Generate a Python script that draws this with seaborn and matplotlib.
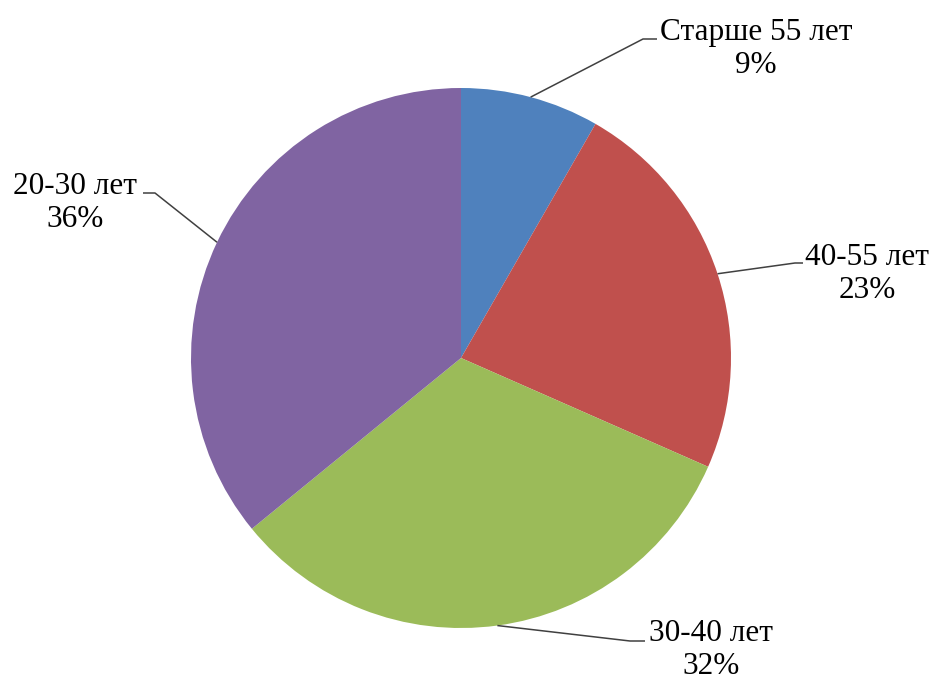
import numpy as np
import matplotlib
matplotlib.use("Agg")
import matplotlib.pyplot as plt
import seaborn as sns

categories = ["Старше 55 лет", "40-55 лет", "30-40 лет", "20-30 лет"]
values = [8.3, 23.3, 32.5, 35.9]
pct_labels = ["9%", "23%", "32%", "36%"]
colors = ["#4F81BD", "#C0504D", "#9BBB59", "#8064A2"]

sns.set_theme(style="white")
plt.rcParams["font.family"] = ["Liberation Serif", "DejaVu Serif"]
palette = sns.color_palette(colors)

W, H = 935, 680
cx, cy, R = 461, 358, 270
fig = plt.figure(figsize=(W / 100, H / 100), dpi=100)
ax = fig.add_axes([0, 0, 1, 1])

wedges, _ = ax.pie(values, colors=palette, startangle=90, counterclock=False,
                   radius=1.0, wedgeprops=dict(linewidth=0))
ax.set_aspect("auto")
ax.set_xlim((0 - cx) / R, (W - cx) / R)
ax.set_ylim((cy - H) / R, cy / R)
ax.axis("off")

def px(x, y):
    return ((x - cx) / R, (cy - y) / R)

# label layout (pixel positions): text center, elbow, horizontal end
layout = [
    ((756, 49), (643, 39), (657, 39)),
    ((867, 274), (795, 263), (803, 263)),
    ((711, 650), (630, 641), (645, 641)),
    ((75, 203), (155, 193), (143, 193)),
]

for w, cat, pl, (tc, elbow, hend) in zip(wedges, categories, pct_labels, layout):
    mid = np.deg2rad((w.theta1 + w.theta2) / 2)
    ax_, ay_ = np.cos(mid), np.sin(mid)
    ex, ey = px(*elbow)
    hx, hy = px(*hend)
    ax.plot([ax_, ex, hx], [ay_, ey, hy], color="#404040", lw=1.1,
            solid_capstyle="butt")
    tx, ty = px(*tc)
    ax.text(tx, ty, f"{cat}\n{pl}", ha="center", va="center",
            fontsize=22.5, linespacing=1.17, color="black")

fig.savefig("out.png", dpi=100)
